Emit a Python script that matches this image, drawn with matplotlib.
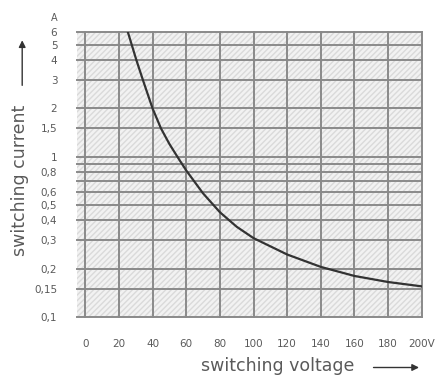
import matplotlib.pyplot as plt
from matplotlib.patches import Rectangle

plt.rcParams["font.family"] = "DejaVu Sans"

# curve
voltage = [25.3, 27.6, 30.4, 34.3, 40, 45, 50, 54.7, 60, 70, 80, 90, 100, 120, 140, 160, 180, 200]
current = [6.0, 5.0, 4.0, 3.0, 2.0, 1.5, 1.2, 1.0, 0.82, 0.59, 0.45, 0.365, 0.31, 0.245, 0.205, 0.18, 0.165, 0.155]

x_ticks = [0, 20, 40, 60, 80, 100, 120, 140, 160, 180, 200]
x_labels = ['0', '20', '40', '60', '80', '100', '120', '140', '160', '180', '200V']
y_grid = [0.1, 0.15, 0.2, 0.3, 0.4, 0.5, 0.6, 0.7, 0.8, 0.9, 1, 1.5, 2, 3, 4, 5, 6]
y_ticks = [0.1, 0.15, 0.2, 0.3, 0.4, 0.5, 0.6, 0.8, 1, 1.5, 2, 3, 4, 5, 6]
y_labels = ['0,1', '0,15', '0,2', '0,3', '0,4', '0,5', '0,6', '0,8', '1', '1,5', '2', '3', '4', '5', '6']

txt = '#5a5a5a'
fig = plt.figure(figsize=(4.44, 3.75), dpi=100)
ax = fig.add_axes([0.173, 0.155, 0.777, 0.76])
ax.set_yscale('log')
ax.set_xlim(-5, 200)
ax.set_ylim(0.1, 6)

# hatched paper background
bg = Rectangle((0, 0), 1, 1, transform=ax.transAxes, facecolor='#f2f2f2',
               edgecolor='#dadada', hatch='//////', linewidth=0, zorder=0)
ax.add_patch(bg)

for x in x_ticks:
    ax.axvline(x, color='#8a8a8a', lw=1.4, zorder=1, clip_on=False)
for y in y_grid:
    ax.axhline(y, color='#8a8a8a', lw=1.4, zorder=1, clip_on=False)

ax.plot(voltage, current, color='#333333', lw=1.6, zorder=3, solid_joinstyle='round')

for s in ax.spines.values():
    s.set_visible(False)
ax.set_xticks(x_ticks)
ax.set_xticklabels(x_labels)
ax.set_yticks(y_ticks)
ax.set_yticklabels(y_labels)
ax.minorticks_off()
ax.tick_params(axis='both', length=0, labelsize=7.5, labelcolor=txt)
ax.tick_params(axis='x', pad=16)
ax.tick_params(axis='y', pad=14)
ax.text(-0.055, 1.03, 'A', transform=ax.transAxes, fontsize=7, color=txt, ha='right', va='bottom')

fig.text(0.625, 0.0, 'switching voltage', fontsize=12.5, color=txt, ha='center', va='bottom')
ax.annotate('', xy=(0.95, 0.02), xytext=(0.835, 0.02), xycoords='figure fraction',
            arrowprops=dict(arrowstyle='-|>', color='#333333', lw=1, mutation_scale=10))

fig.text(0.045, 0.52, 'switching current', fontsize=12.5, color=txt, rotation=90, ha='center', va='center')
ax.annotate('', xy=(0.05, 0.9), xytext=(0.05, 0.765), xycoords='figure fraction',
            arrowprops=dict(arrowstyle='-|>', color='#333333', lw=1, mutation_scale=10))

fig.savefig('out.png', dpi=100)
